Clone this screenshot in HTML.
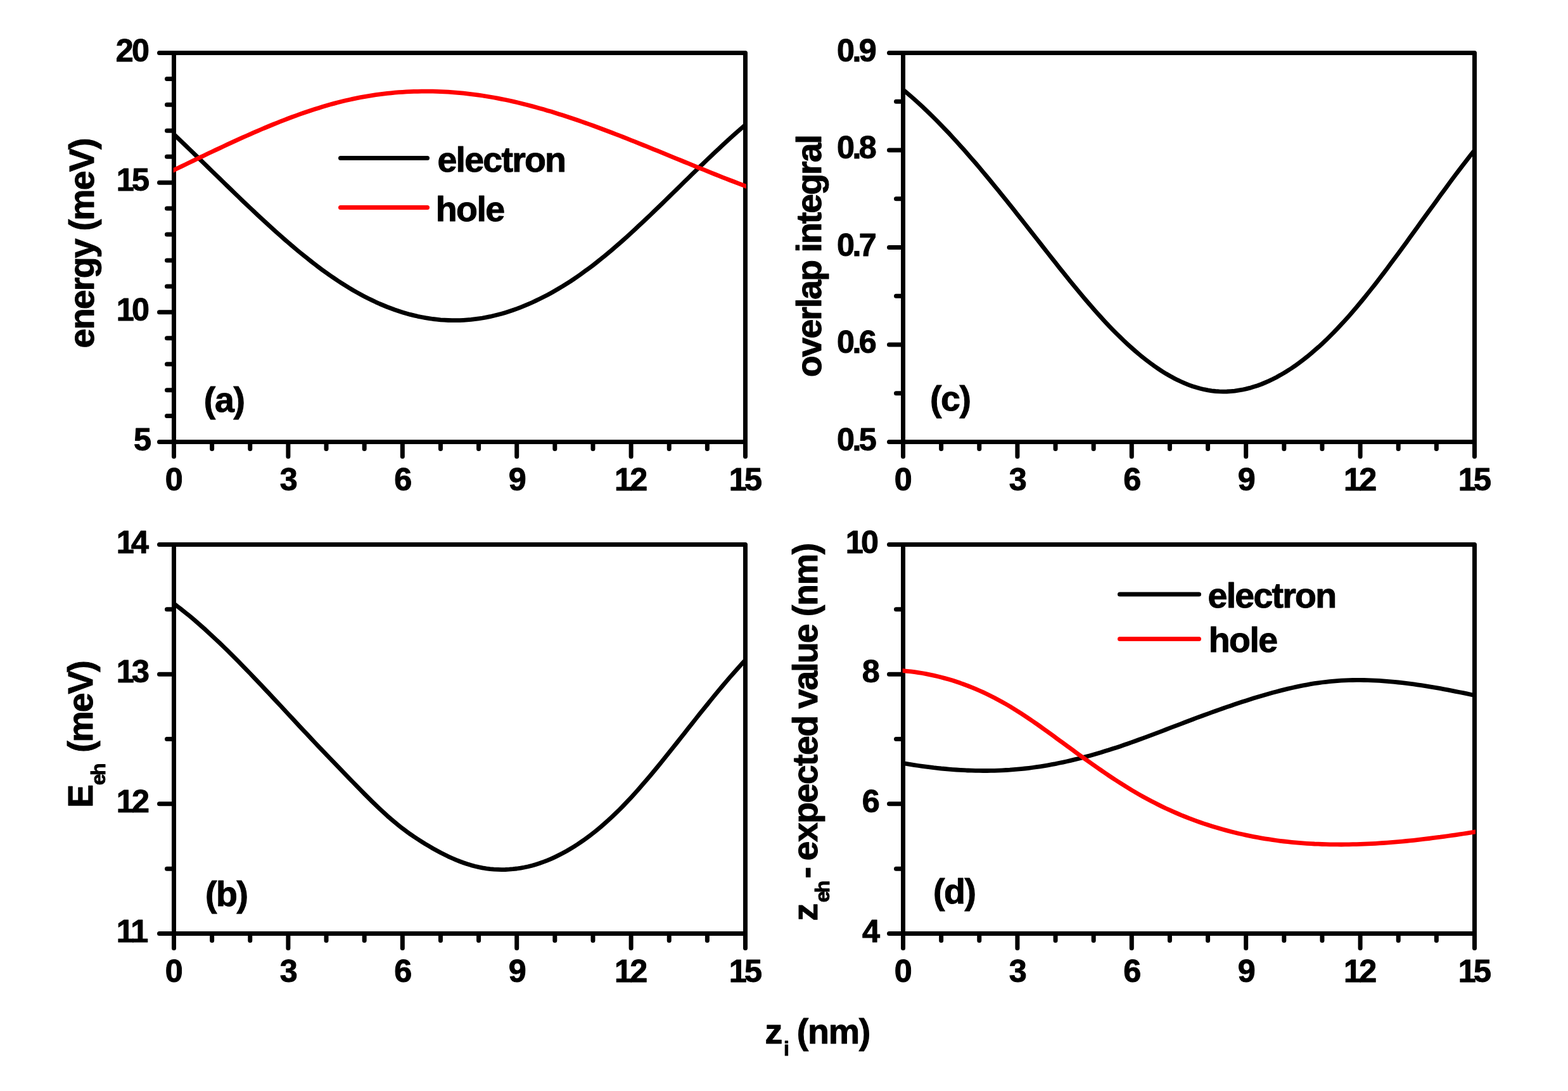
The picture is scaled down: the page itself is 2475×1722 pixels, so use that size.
<!DOCTYPE html>
<html lang="en"><head><meta charset="utf-8"><title>Figure: energies, overlap integral and expected values versus z_i</title>
<style>html,body{margin:0;padding:0;background:#fff}svg{display:block}text{font-family:'Liberation Sans', Arial, Helvetica, sans-serif;font-weight:bold;fill:#000;stroke:#000;stroke-width:1px;stroke-linejoin:round;}</style></head>
<body><svg xmlns="http://www.w3.org/2000/svg" width="2475" height="1722" viewBox="0 0 2475 1722">
<rect x="0" y="0" width="2475" height="1722" fill="#fff"/>
<g id="panel-a">
<defs><clipPath id="clip-a"><rect x="273.7" y="83.5" width="904.3" height="614.0"/></clipPath></defs>
<g fill="none" stroke="#000" stroke-width="7" stroke-linecap="round" stroke-linejoin="round"><path d="M274.5 83.5H1176.5V697.5"/><path d="M274.5 83.5V697.5H1176.5" stroke-linecap="butt"/><path d="M274.50 697.5v23M334.63 697.5v11M394.77 697.5v11M454.90 697.5v23M515.03 697.5v11M575.17 697.5v11M635.30 697.5v23M695.43 697.5v11M755.57 697.5v11M815.70 697.5v23M875.83 697.5v11M935.97 697.5v11M996.10 697.5v23M1056.23 697.5v11M1116.37 697.5v11M1176.50 697.5v23M274.5 697.50h-23M274.5 492.83h-23M274.5 288.17h-23M274.5 83.50h-23M274.5 656.57h-11M274.5 615.63h-11M274.5 574.70h-11M274.5 533.77h-11M274.5 451.90h-11M274.5 410.97h-11M274.5 370.03h-11M274.5 329.10h-11M274.5 247.23h-11M274.5 206.30h-11M274.5 165.37h-11M274.5 124.43h-11"/></g>
<polyline clip-path="url(#clip-a)" fill="none" stroke="#000" stroke-width="6.8" stroke-linejoin="round" stroke-linecap="butt" points="268.5,206.5 274.5,212.1 280.5,217.8 286.5,223.5 292.5,229.3 298.6,235.1 304.6,240.9 310.6,246.7 316.6,252.5 322.6,258.4 328.6,264.2 334.6,270.1 340.6,275.9 346.7,281.8 352.7,287.6 358.7,293.5 364.7,299.3 370.7,305.1 376.7,310.9 382.7,316.7 388.8,322.4 394.8,328.1 400.8,333.8 406.8,339.4 412.8,345.0 418.8,350.6 424.8,356.1 430.8,361.6 436.9,367.0 442.9,372.3 448.9,377.6 454.9,382.8 460.9,387.9 466.9,393.0 472.9,398.0 479.0,402.9 485.0,407.7 491.0,412.5 497.0,417.1 503.0,421.7 509.0,426.2 515.0,430.5 521.0,434.8 527.1,438.9 533.1,443.0 539.1,446.9 545.1,450.7 551.1,454.4 557.1,458.0 563.1,461.4 569.2,464.7 575.2,467.9 581.2,471.0 587.2,473.9 593.2,476.8 599.2,479.5 605.2,482.0 611.2,484.5 617.3,486.8 623.3,489.0 629.3,491.0 635.3,492.9 641.3,494.7 647.3,496.4 653.3,497.9 659.4,499.3 665.4,500.5 671.4,501.7 677.4,502.6 683.4,503.5 689.4,504.2 695.4,504.8 701.4,505.2 707.5,505.5 713.5,505.7 719.5,505.7 725.5,505.6 731.5,505.3 737.5,504.9 743.5,504.4 749.6,503.7 755.6,502.9 761.6,502.0 767.6,500.9 773.6,499.7 779.6,498.3 785.6,496.8 791.6,495.2 797.7,493.4 803.7,491.5 809.7,489.5 815.7,487.4 821.7,485.1 827.7,482.7 833.7,480.2 839.8,477.5 845.8,474.7 851.8,471.8 857.8,468.8 863.8,465.7 869.8,462.4 875.8,459.0 881.8,455.5 887.9,451.9 893.9,448.1 899.9,444.3 905.9,440.3 911.9,436.2 917.9,432.0 923.9,427.6 930.0,423.2 936.0,418.7 942.0,414.0 948.0,409.2 954.0,404.4 960.0,399.4 966.0,394.3 972.0,389.2 978.1,383.9 984.1,378.6 990.1,373.2 996.1,367.8 1002.1,362.2 1008.1,356.6 1014.1,351.0 1020.2,345.3 1026.2,339.6 1032.2,333.8 1038.2,328.0 1044.2,322.2 1050.2,316.4 1056.2,310.5 1062.2,304.6 1068.3,298.7 1074.3,292.8 1080.3,286.9 1086.3,281.1 1092.3,275.2 1098.3,269.3 1104.3,263.5 1110.4,257.7 1116.4,251.9 1122.4,246.2 1128.4,240.5 1134.4,234.9 1140.4,229.3 1146.4,223.7 1152.4,218.3 1158.5,212.8 1164.5,207.5 1170.5,202.3 1176.5,197.1 1182.5,192.0"/>
<polyline clip-path="url(#clip-a)" fill="none" stroke="#f00" stroke-width="6.8" stroke-linejoin="round" stroke-linecap="butt" points="268.5,271.3 274.5,268.4 280.5,265.5 286.5,262.6 292.5,259.7 298.6,256.8 304.6,253.9 310.6,251.0 316.6,248.1 322.6,245.2 328.6,242.3 334.6,239.5 340.6,236.6 346.7,233.8 352.7,231.0 358.7,228.2 364.7,225.4 370.7,222.6 376.7,219.9 382.7,217.2 388.8,214.5 394.8,211.8 400.8,209.2 406.8,206.6 412.8,204.0 418.8,201.5 424.8,199.0 430.8,196.5 436.9,194.1 442.9,191.7 448.9,189.3 454.9,187.0 460.9,184.8 466.9,182.6 472.9,180.4 479.0,178.3 485.0,176.3 491.0,174.2 497.0,172.3 503.0,170.4 509.0,168.6 515.0,166.8 521.0,165.1 527.1,163.4 533.1,161.8 539.1,160.3 545.1,158.8 551.1,157.5 557.1,156.1 563.1,154.9 569.2,153.7 575.2,152.6 581.2,151.6 587.2,150.6 593.2,149.7 599.2,148.9 605.2,148.1 611.2,147.4 617.3,146.8 623.3,146.2 629.3,145.7 635.3,145.3 641.3,144.9 647.3,144.7 653.3,144.4 659.4,144.3 665.4,144.2 671.4,144.1 677.4,144.1 683.4,144.2 689.4,144.4 695.4,144.6 701.4,144.9 707.5,145.2 713.5,145.6 719.5,146.1 725.5,146.6 731.5,147.2 737.5,147.8 743.5,148.6 749.6,149.3 755.6,150.1 761.6,151.0 767.6,152.0 773.6,153.0 779.6,154.0 785.6,155.1 791.6,156.3 797.7,157.5 803.7,158.8 809.7,160.1 815.7,161.5 821.7,163.0 827.7,164.5 833.7,166.0 839.8,167.6 845.8,169.2 851.8,170.9 857.8,172.6 863.8,174.4 869.8,176.1 875.8,178.0 881.8,179.9 887.9,181.8 893.9,183.7 899.9,185.7 905.9,187.7 911.9,189.8 917.9,191.9 923.9,194.0 930.0,196.1 936.0,198.3 942.0,200.5 948.0,202.7 954.0,205.0 960.0,207.2 966.0,209.5 972.0,211.8 978.1,214.2 984.1,216.5 990.1,218.9 996.1,221.3 1002.1,223.6 1008.1,226.1 1014.1,228.5 1020.2,230.9 1026.2,233.3 1032.2,235.8 1038.2,238.2 1044.2,240.7 1050.2,243.2 1056.2,245.6 1062.2,248.1 1068.3,250.6 1074.3,253.0 1080.3,255.5 1086.3,257.9 1092.3,260.4 1098.3,262.9 1104.3,265.3 1110.4,267.7 1116.4,270.2 1122.4,272.6 1128.4,275.0 1134.4,277.4 1140.4,279.8 1146.4,282.1 1152.4,284.5 1158.5,286.8 1164.5,289.1 1170.5,291.4 1176.5,293.7 1182.5,295.9"/>
</g>
<g id="panel-b">
<defs><clipPath id="clip-b"><rect x="273.7" y="859.5" width="904.3" height="614.0"/></clipPath></defs>
<g fill="none" stroke="#000" stroke-width="7" stroke-linecap="round" stroke-linejoin="round"><path d="M274.5 859.5H1176.5V1473.5"/><path d="M274.5 859.5V1473.5H1176.5" stroke-linecap="butt"/><path d="M274.50 1473.5v23M334.63 1473.5v11M394.77 1473.5v11M454.90 1473.5v23M515.03 1473.5v11M575.17 1473.5v11M635.30 1473.5v23M695.43 1473.5v11M755.57 1473.5v11M815.70 1473.5v23M875.83 1473.5v11M935.97 1473.5v11M996.10 1473.5v23M1056.23 1473.5v11M1116.37 1473.5v11M1176.50 1473.5v23M274.5 1473.50h-23M274.5 1268.83h-23M274.5 1064.17h-23M274.5 859.50h-23M274.5 1371.17h-11M274.5 1166.50h-11M274.5 961.83h-11"/></g>
<polyline clip-path="url(#clip-b)" fill="none" stroke="#000" stroke-width="6.8" stroke-linejoin="round" stroke-linecap="butt" points="268.5,948.4 274.5,952.8 280.5,957.4 286.5,962.0 292.5,966.8 298.6,971.7 304.6,976.7 310.6,981.9 316.6,987.1 322.6,992.4 328.6,997.9 334.6,1003.4 340.6,1009.1 346.7,1014.8 352.7,1020.6 358.7,1026.4 364.7,1032.4 370.7,1038.4 376.7,1044.4 382.7,1050.6 388.8,1056.8 394.8,1063.0 400.8,1069.3 406.8,1075.6 412.8,1081.9 418.8,1088.3 424.8,1094.7 430.8,1101.1 436.9,1107.6 442.9,1114.0 448.9,1120.5 454.9,1127.0 460.9,1133.4 466.9,1139.9 472.9,1146.4 479.0,1152.8 485.0,1159.2 491.0,1165.6 497.0,1172.0 503.0,1178.3 509.0,1184.6 515.0,1190.9 521.0,1197.1 527.1,1203.4 533.1,1209.6 539.1,1215.8 545.1,1222.1 551.1,1228.3 557.1,1234.5 563.1,1240.7 569.2,1246.9 575.2,1253.0 581.2,1259.0 587.2,1265.0 593.2,1270.8 599.2,1276.5 605.2,1282.1 611.2,1287.6 617.3,1292.9 623.3,1297.9 629.3,1302.8 635.3,1307.6 641.3,1312.0 647.3,1316.4 653.3,1320.5 659.4,1324.5 665.4,1328.3 671.4,1332.1 677.4,1335.7 683.4,1339.2 689.4,1342.5 695.4,1345.8 701.4,1348.8 707.5,1351.8 713.5,1354.5 719.5,1357.1 725.5,1359.5 731.5,1361.7 737.5,1363.8 743.5,1365.6 749.6,1367.2 755.6,1368.6 761.6,1369.8 767.6,1370.8 773.6,1371.6 779.6,1372.1 785.6,1372.4 791.6,1372.6 797.7,1372.5 803.7,1372.2 809.7,1371.7 815.7,1371.0 821.7,1370.1 827.7,1369.0 833.7,1367.7 839.8,1366.2 845.8,1364.4 851.8,1362.5 857.8,1360.4 863.8,1358.1 869.8,1355.6 875.8,1352.8 881.8,1349.9 887.9,1346.8 893.9,1343.5 899.9,1340.0 905.9,1336.4 911.9,1332.5 917.9,1328.4 923.9,1324.2 930.0,1319.7 936.0,1315.1 942.0,1310.3 948.0,1305.3 954.0,1300.1 960.0,1294.8 966.0,1289.2 972.0,1283.5 978.1,1277.6 984.1,1271.5 990.1,1265.2 996.1,1258.8 1002.1,1252.2 1008.1,1245.5 1014.1,1238.6 1020.2,1231.6 1026.2,1224.5 1032.2,1217.3 1038.2,1210.0 1044.2,1202.6 1050.2,1195.1 1056.2,1187.6 1062.2,1180.1 1068.3,1172.5 1074.3,1164.9 1080.3,1157.3 1086.3,1149.7 1092.3,1142.1 1098.3,1134.5 1104.3,1126.9 1110.4,1119.4 1116.4,1112.0 1122.4,1104.5 1128.4,1097.2 1134.4,1089.9 1140.4,1082.7 1146.4,1075.6 1152.4,1068.6 1158.5,1061.7 1164.5,1055.0 1170.5,1048.3 1176.5,1041.8 1182.5,1035.5"/>
</g>
<g id="panel-c">
<defs><clipPath id="clip-c"><rect x="1424.7" y="83.5" width="904.3" height="614.0"/></clipPath></defs>
<g fill="none" stroke="#000" stroke-width="7" stroke-linecap="round" stroke-linejoin="round"><path d="M1425.5 83.5H2327.5V697.5"/><path d="M1425.5 83.5V697.5H2327.5" stroke-linecap="butt"/><path d="M1425.50 697.5v23M1485.63 697.5v11M1545.77 697.5v11M1605.90 697.5v23M1666.03 697.5v11M1726.17 697.5v11M1786.30 697.5v23M1846.43 697.5v11M1906.57 697.5v11M1966.70 697.5v23M2026.83 697.5v11M2086.97 697.5v11M2147.10 697.5v23M2207.23 697.5v11M2267.37 697.5v11M2327.50 697.5v23M1425.5 697.50h-22M1425.5 544.00h-22M1425.5 390.50h-22M1425.5 237.00h-22M1425.5 83.50h-22M1425.5 620.75h-11M1425.5 467.25h-11M1425.5 313.75h-11M1425.5 160.25h-11"/></g>
<polyline clip-path="url(#clip-c)" fill="none" stroke="#000" stroke-width="6.8" stroke-linejoin="round" stroke-linecap="butt" points="1419.5,136.7 1425.5,141.6 1431.5,146.6 1437.5,151.8 1443.5,157.0 1449.6,162.5 1455.6,168.0 1461.6,173.7 1467.6,179.5 1473.6,185.4 1479.6,191.4 1485.6,197.6 1491.6,203.8 1497.7,210.2 1503.7,216.7 1509.7,223.2 1515.7,229.9 1521.7,236.6 1527.7,243.4 1533.7,250.4 1539.8,257.3 1545.8,264.4 1551.8,271.6 1557.8,278.8 1563.8,286.0 1569.8,293.4 1575.8,300.7 1581.8,308.2 1587.9,315.7 1593.9,323.2 1599.9,330.7 1605.9,338.3 1611.9,345.9 1617.9,353.5 1623.9,361.2 1630.0,368.8 1636.0,376.5 1642.0,384.2 1648.0,391.8 1654.0,399.5 1660.0,407.1 1666.0,414.7 1672.0,422.3 1678.1,429.9 1684.1,437.4 1690.1,444.8 1696.1,452.2 1702.1,459.4 1708.1,466.7 1714.1,473.8 1720.2,480.8 1726.2,487.7 1732.2,494.5 1738.2,501.1 1744.2,507.7 1750.2,514.1 1756.2,520.3 1762.2,526.4 1768.3,532.3 1774.3,538.1 1780.3,543.7 1786.3,549.1 1792.3,554.4 1798.3,559.5 1804.3,564.4 1810.4,569.1 1816.4,573.6 1822.4,578.0 1828.4,582.1 1834.4,586.1 1840.4,589.8 1846.4,593.3 1852.4,596.6 1858.5,599.7 1864.5,602.5 1870.5,605.2 1876.5,607.6 1882.5,609.7 1888.5,611.6 1894.5,613.3 1900.6,614.7 1906.6,615.9 1912.6,616.8 1918.6,617.5 1924.6,617.9 1930.6,618.1 1936.6,618.0 1942.6,617.6 1948.7,617.1 1954.7,616.2 1960.7,615.2 1966.7,613.9 1972.7,612.4 1978.7,610.6 1984.7,608.7 1990.8,606.5 1996.8,604.0 2002.8,601.4 2008.8,598.5 2014.8,595.4 2020.8,592.1 2026.8,588.6 2032.8,584.9 2038.9,581.0 2044.9,576.9 2050.9,572.5 2056.9,568.0 2062.9,563.3 2068.9,558.3 2074.9,553.2 2081.0,547.9 2087.0,542.4 2093.0,536.8 2099.0,530.9 2105.0,524.9 2111.0,518.6 2117.0,512.2 2123.0,505.7 2129.1,498.9 2135.1,492.0 2141.1,485.0 2147.1,477.8 2153.1,470.5 2159.1,463.0 2165.1,455.5 2171.2,447.8 2177.2,440.0 2183.2,432.1 2189.2,424.2 2195.2,416.1 2201.2,408.0 2207.2,399.9 2213.2,391.7 2219.3,383.4 2225.3,375.1 2231.3,366.8 2237.3,358.5 2243.3,350.1 2249.3,341.8 2255.3,333.5 2261.4,325.2 2267.4,316.9 2273.4,308.6 2279.4,300.4 2285.4,292.2 2291.4,284.1 2297.4,276.0 2303.4,268.1 2309.5,260.2 2315.5,252.4 2321.5,244.7 2327.5,237.1 2333.5,229.6"/>
</g>
<g id="panel-d">
<defs><clipPath id="clip-d"><rect x="1424.7" y="859.5" width="904.3" height="614.0"/></clipPath></defs>
<g fill="none" stroke="#000" stroke-width="7" stroke-linecap="round" stroke-linejoin="round"><path d="M1425.5 859.5H2327.5V1473.5"/><path d="M1425.5 859.5V1473.5H2327.5" stroke-linecap="butt"/><path d="M1425.50 1473.5v23M1485.63 1473.5v11M1545.77 1473.5v11M1605.90 1473.5v23M1666.03 1473.5v11M1726.17 1473.5v11M1786.30 1473.5v23M1846.43 1473.5v11M1906.57 1473.5v11M1966.70 1473.5v23M2026.83 1473.5v11M2086.97 1473.5v11M2147.10 1473.5v23M2207.23 1473.5v11M2267.37 1473.5v11M2327.50 1473.5v23M1425.5 1473.50h-22M1425.5 1268.83h-22M1425.5 1064.17h-22M1425.5 859.50h-22M1425.5 1371.17h-11M1425.5 1166.50h-11M1425.5 961.83h-11"/></g>
<polyline clip-path="url(#clip-d)" fill="none" stroke="#000" stroke-width="6.8" stroke-linejoin="round" stroke-linecap="butt" points="1419.5,1203.6 1425.5,1204.7 1431.5,1205.7 1437.5,1206.7 1443.5,1207.6 1449.6,1208.5 1455.6,1209.4 1461.6,1210.2 1467.6,1210.9 1473.6,1211.7 1479.6,1212.3 1485.6,1213.0 1491.6,1213.5 1497.7,1214.1 1503.7,1214.6 1509.7,1215.0 1515.7,1215.4 1521.7,1215.7 1527.7,1216.0 1533.7,1216.2 1539.8,1216.3 1545.8,1216.4 1551.8,1216.5 1557.8,1216.5 1563.8,1216.4 1569.8,1216.3 1575.8,1216.1 1581.8,1215.8 1587.9,1215.5 1593.9,1215.2 1599.9,1214.7 1605.9,1214.2 1611.9,1213.6 1617.9,1213.0 1623.9,1212.3 1630.0,1211.5 1636.0,1210.7 1642.0,1209.8 1648.0,1208.8 1654.0,1207.8 1660.0,1206.7 1666.0,1205.6 1672.0,1204.3 1678.1,1203.1 1684.1,1201.8 1690.1,1200.4 1696.1,1198.9 1702.1,1197.5 1708.1,1195.9 1714.1,1194.3 1720.2,1192.7 1726.2,1191.0 1732.2,1189.2 1738.2,1187.5 1744.2,1185.6 1750.2,1183.8 1756.2,1181.8 1762.2,1179.9 1768.3,1177.9 1774.3,1175.8 1780.3,1173.8 1786.3,1171.6 1792.3,1169.5 1798.3,1167.3 1804.3,1165.1 1810.4,1162.9 1816.4,1160.6 1822.4,1158.4 1828.4,1156.1 1834.4,1153.8 1840.4,1151.5 1846.4,1149.2 1852.4,1146.9 1858.5,1144.6 1864.5,1142.3 1870.5,1140.0 1876.5,1137.8 1882.5,1135.5 1888.5,1133.2 1894.5,1131.0 1900.6,1128.8 1906.6,1126.6 1912.6,1124.4 1918.6,1122.3 1924.6,1120.1 1930.6,1118.0 1936.6,1115.9 1942.6,1113.9 1948.7,1111.8 1954.7,1109.8 1960.7,1107.8 1966.7,1105.9 1972.7,1104.0 1978.7,1102.1 1984.7,1100.3 1990.8,1098.5 1996.8,1096.7 2002.8,1095.0 2008.8,1093.3 2014.8,1091.7 2020.8,1090.1 2026.8,1088.6 2032.8,1087.1 2038.9,1085.7 2044.9,1084.4 2050.9,1083.1 2056.9,1081.9 2062.9,1080.8 2068.9,1079.7 2074.9,1078.7 2081.0,1077.8 2087.0,1077.0 2093.0,1076.3 2099.0,1075.6 2105.0,1075.1 2111.0,1074.6 2117.0,1074.2 2123.0,1073.9 2129.1,1073.7 2135.1,1073.5 2141.1,1073.4 2147.1,1073.4 2153.1,1073.5 2159.1,1073.6 2165.1,1073.8 2171.2,1074.1 2177.2,1074.4 2183.2,1074.8 2189.2,1075.3 2195.2,1075.8 2201.2,1076.3 2207.2,1077.0 2213.2,1077.6 2219.3,1078.3 2225.3,1079.1 2231.3,1079.9 2237.3,1080.8 2243.3,1081.7 2249.3,1082.6 2255.3,1083.6 2261.4,1084.6 2267.4,1085.6 2273.4,1086.7 2279.4,1087.8 2285.4,1088.9 2291.4,1090.1 2297.4,1091.3 2303.4,1092.5 2309.5,1093.7 2315.5,1094.9 2321.5,1096.2 2327.5,1097.5 2333.5,1098.7"/>
<polyline clip-path="url(#clip-d)" fill="none" stroke="#f00" stroke-width="6.8" stroke-linejoin="round" stroke-linecap="butt" points="1419.5,1058.3 1425.5,1058.7 1431.5,1059.3 1437.5,1059.9 1443.5,1060.7 1449.6,1061.6 1455.6,1062.5 1461.6,1063.6 1467.6,1064.8 1473.6,1066.1 1479.6,1067.5 1485.6,1069.0 1491.6,1070.6 1497.7,1072.3 1503.7,1074.1 1509.7,1076.1 1515.7,1078.1 1521.7,1080.3 1527.7,1082.5 1533.7,1084.9 1539.8,1087.4 1545.8,1090.0 1551.8,1092.7 1557.8,1095.5 1563.8,1098.5 1569.8,1101.5 1575.8,1104.7 1581.8,1108.0 1587.9,1111.4 1593.9,1114.9 1599.9,1118.6 1605.9,1122.3 1611.9,1126.2 1617.9,1130.1 1623.9,1134.1 1630.0,1138.2 1636.0,1142.4 1642.0,1146.6 1648.0,1150.9 1654.0,1155.2 1660.0,1159.6 1666.0,1164.0 1672.0,1168.4 1678.1,1172.8 1684.1,1177.2 1690.1,1181.6 1696.1,1186.0 1702.1,1190.4 1708.1,1194.7 1714.1,1199.0 1720.2,1203.3 1726.2,1207.5 1732.2,1211.7 1738.2,1215.9 1744.2,1220.0 1750.2,1224.1 1756.2,1228.1 1762.2,1232.0 1768.3,1235.9 1774.3,1239.7 1780.3,1243.4 1786.3,1247.1 1792.3,1250.6 1798.3,1254.1 1804.3,1257.5 1810.4,1260.8 1816.4,1264.0 1822.4,1267.1 1828.4,1270.1 1834.4,1273.1 1840.4,1276.0 1846.4,1278.7 1852.4,1281.4 1858.5,1284.0 1864.5,1286.6 1870.5,1289.0 1876.5,1291.4 1882.5,1293.7 1888.5,1295.9 1894.5,1298.0 1900.6,1300.1 1906.6,1302.1 1912.6,1304.0 1918.6,1305.8 1924.6,1307.6 1930.6,1309.3 1936.6,1310.9 1942.6,1312.5 1948.7,1314.0 1954.7,1315.5 1960.7,1316.8 1966.7,1318.1 1972.7,1319.4 1978.7,1320.6 1984.7,1321.7 1990.8,1322.8 1996.8,1323.8 2002.8,1324.7 2008.8,1325.6 2014.8,1326.5 2020.8,1327.3 2026.8,1328.0 2032.8,1328.7 2038.9,1329.3 2044.9,1329.9 2050.9,1330.4 2056.9,1330.9 2062.9,1331.3 2068.9,1331.6 2074.9,1332.0 2081.0,1332.2 2087.0,1332.5 2093.0,1332.7 2099.0,1332.8 2105.0,1332.9 2111.0,1332.9 2117.0,1333.0 2123.0,1332.9 2129.1,1332.9 2135.1,1332.7 2141.1,1332.6 2147.1,1332.4 2153.1,1332.2 2159.1,1331.9 2165.1,1331.6 2171.2,1331.3 2177.2,1330.9 2183.2,1330.5 2189.2,1330.1 2195.2,1329.6 2201.2,1329.1 2207.2,1328.6 2213.2,1328.1 2219.3,1327.5 2225.3,1326.9 2231.3,1326.3 2237.3,1325.6 2243.3,1324.9 2249.3,1324.2 2255.3,1323.5 2261.4,1322.7 2267.4,1321.9 2273.4,1321.2 2279.4,1320.3 2285.4,1319.5 2291.4,1318.7 2297.4,1317.8 2303.4,1316.9 2309.5,1316.0 2315.5,1315.1 2321.5,1314.2 2327.5,1313.2 2333.5,1312.3"/>
</g>
<line x1="537.5" x2="674.5" y1="249.5" y2="249.5" stroke="#000" stroke-width="7" stroke-linecap="round"/>
<line x1="537.5" x2="674.5" y1="327.5" y2="327.5" stroke="#f00" stroke-width="7" stroke-linecap="round"/>
<line x1="1767.5" x2="1892.5" y1="938" y2="938" stroke="#000" stroke-width="7" stroke-linecap="round"/>
<line x1="1767.5" x2="1892.5" y1="1008.5" y2="1008.5" stroke="#f00" stroke-width="7" stroke-linecap="round"/>
<text x="690.50" y="270.90" font-size="55.5" letter-spacing="-1.771">electron</text>
<text x="687.70" y="348.80" font-size="55.5" letter-spacing="-1.533">hole</text>
<text x="1906.60" y="958.80" font-size="55.5" letter-spacing="-1.771">electron</text>
<text x="1907.70" y="1028.90" font-size="55.5" letter-spacing="-1.533">hole</text>
<text x="321.80" y="649.50" font-size="55.5" letter-spacing="-1.350">(a)</text>
<text x="323.90" y="1429.50" font-size="55.5" letter-spacing="-1.400">(b)</text>
<text x="1467.90" y="647.60" font-size="55.5" letter-spacing="-1.400">(c)</text>
<text x="1472.90" y="1425.90" font-size="55.5" letter-spacing="-1.350">(d)</text>
<text x="1207.45" y="1646.50" font-size="55.5" letter-spacing="0.000">z</text>
<text x="1236.95" y="1665.50" font-size="32" letter-spacing="0.000">i</text>
<text x="1257.80" y="1646.50" font-size="55.5" letter-spacing="-1.233">(nm)</text>
<text transform="rotate(-90)" x="-549.40" y="148.00" font-size="55.5" letter-spacing="-1.800">energy (meV)</text>
<text transform="rotate(-90)" x="-595.30" y="1296.00" font-size="55.5" letter-spacing="-2.000">overlap integral</text>
<text transform="rotate(-90)" x="-1275.00" y="146.40" font-size="55.5" letter-spacing="0.000">E</text>
<text transform="rotate(-90)" x="-1239.30" y="165.80" font-size="32" letter-spacing="-2.500">eh</text>
<text transform="rotate(-90)" x="-1187.70" y="146.40" font-size="55.5" letter-spacing="-2.200">(meV)</text>
<text transform="rotate(-90)" x="-1453.50" y="1289.80" font-size="55.5" letter-spacing="0.000">z</text>
<text transform="rotate(-90)" x="-1424.20" y="1309.00" font-size="32" letter-spacing="-2.900">eh</text>
<text transform="rotate(-90)" x="-1386.60" y="1289.80" font-size="55.5" letter-spacing="0.000">-</text>
<text transform="rotate(-90)" x="-1358.40" y="1289.80" font-size="55.5" letter-spacing="-1.571">expected</text>
<text transform="rotate(-90)" x="-1118.50" y="1289.80" font-size="55.5" letter-spacing="-1.950">value</text>
<text transform="rotate(-90)" x="-973.20" y="1289.80" font-size="55.5" letter-spacing="-1.267">(nm)</text>
<text x="210.90" y="710.60" font-size="50.3" letter-spacing="0.000">5</text>
<text x="183.80" y="505.93" font-size="50.3" letter-spacing="-3.650">10</text>
<text x="183.80" y="301.27" font-size="50.3" letter-spacing="-3.800">15</text>
<text x="182.85" y="96.60" font-size="50.3" letter-spacing="-2.750">20</text>
<text x="260.76" y="773.70" font-size="50.3" letter-spacing="0.000">0</text>
<text x="441.70" y="773.70" font-size="50.3" letter-spacing="0.000">3</text>
<text x="622.30" y="773.70" font-size="50.3" letter-spacing="0.000">6</text>
<text x="802.70" y="773.70" font-size="50.3" letter-spacing="0.000">9</text>
<text x="970.10" y="773.70" font-size="50.3" letter-spacing="-3.700">12</text>
<text x="1150.80" y="773.70" font-size="50.3" letter-spacing="-3.800">15</text>
<text x="183.80" y="1486.60" font-size="50.3" letter-spacing="-2.800">11</text>
<text x="183.80" y="1281.93" font-size="50.3" letter-spacing="-3.700">12</text>
<text x="183.80" y="1077.27" font-size="50.3" letter-spacing="-3.700">13</text>
<text x="183.80" y="872.60" font-size="50.3" letter-spacing="-4.800">14</text>
<text x="260.76" y="1549.70" font-size="50.3" letter-spacing="0.000">0</text>
<text x="441.70" y="1549.70" font-size="50.3" letter-spacing="0.000">3</text>
<text x="622.30" y="1549.70" font-size="50.3" letter-spacing="0.000">6</text>
<text x="802.70" y="1549.70" font-size="50.3" letter-spacing="0.000">9</text>
<text x="970.10" y="1549.70" font-size="50.3" letter-spacing="-3.700">12</text>
<text x="1150.80" y="1549.70" font-size="50.3" letter-spacing="-3.800">15</text>
<text x="1321.00" y="710.60" font-size="50.3" letter-spacing="-3.550">0.5</text>
<text x="1321.00" y="557.10" font-size="50.3" letter-spacing="-3.550">0.6</text>
<text x="1321.00" y="403.60" font-size="50.3" letter-spacing="-3.550">0.7</text>
<text x="1321.00" y="250.10" font-size="50.3" letter-spacing="-3.550">0.8</text>
<text x="1321.00" y="96.60" font-size="50.3" letter-spacing="-3.550">0.9</text>
<text x="1411.76" y="773.70" font-size="50.3" letter-spacing="0.000">0</text>
<text x="1592.70" y="773.70" font-size="50.3" letter-spacing="0.000">3</text>
<text x="1773.30" y="773.70" font-size="50.3" letter-spacing="0.000">6</text>
<text x="1953.70" y="773.70" font-size="50.3" letter-spacing="0.000">9</text>
<text x="2121.10" y="773.70" font-size="50.3" letter-spacing="-3.700">12</text>
<text x="2301.80" y="773.70" font-size="50.3" letter-spacing="-3.800">15</text>
<text x="1360.90" y="1486.60" font-size="50.3" letter-spacing="0.000">4</text>
<text x="1360.70" y="1281.93" font-size="50.3" letter-spacing="0.000">6</text>
<text x="1360.70" y="1077.27" font-size="50.3" letter-spacing="0.000">8</text>
<text x="1334.70" y="872.60" font-size="50.3" letter-spacing="-3.650">10</text>
<text x="1411.76" y="1549.70" font-size="50.3" letter-spacing="0.000">0</text>
<text x="1592.70" y="1549.70" font-size="50.3" letter-spacing="0.000">3</text>
<text x="1773.30" y="1549.70" font-size="50.3" letter-spacing="0.000">6</text>
<text x="1953.70" y="1549.70" font-size="50.3" letter-spacing="0.000">9</text>
<text x="2121.10" y="1549.70" font-size="50.3" letter-spacing="-3.700">12</text>
<text x="2301.80" y="1549.70" font-size="50.3" letter-spacing="-3.800">15</text>
</svg></body></html>
